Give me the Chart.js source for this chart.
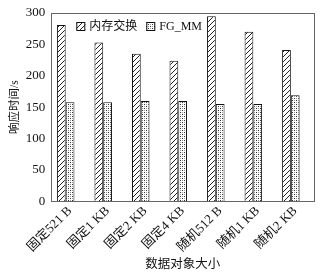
<!DOCTYPE html>
<html lang="zh">
<head>
  <meta charset="UTF-8" />
  <title>响应时间对比</title>
  <script src="https://cdn.jsdelivr.net/npm/chart.js"></script>
  <style>
    body { margin: 0; background: #fff; }
    #wrap { width: 323px; height: 274px; }
  </style>
</head>
<body>
  <div id="wrap"><canvas id="chart"></canvas></div>
  <script>
    const categories = ['固定521 B', '固定1 KB', '固定2 KB', '固定4 KB', '随机512 B', '随机1 KB', '随机2 KB'];
    const swapValues = [281, 253, 235, 224, 295, 270, 241];
    const fgmmValues = [158, 158, 160, 160, 155, 155, 169];
    const yTicks = [0, 50, 100, 150, 200, 250, 300];

    const FONT = "'Liberation Serif', 'Times New Roman', 'Noto Sans CJK SC', serif";

    function hatchPattern() {
      const c = document.createElement('canvas');
      c.width = 5; c.height = 5;
      const g = c.getContext('2d');
      g.fillStyle = '#fff';
      g.fillRect(0, 0, 5, 5);
      g.strokeStyle = '#222';
      g.lineWidth = 1;
      g.beginPath();
      g.moveTo(-1, 6); g.lineTo(6, -1);
      g.moveTo(-1, 1); g.lineTo(1, -1);
      g.moveTo(4, 6); g.lineTo(6, 4);
      g.stroke();
      return g.createPattern(c, 'repeat');
    }

    function dotPattern() {
      const c = document.createElement('canvas');
      c.width = 4; c.height = 4;
      const g = c.getContext('2d');
      g.fillStyle = '#fff';
      g.fillRect(0, 0, 4, 4);
      g.fillStyle = '#333';
      g.fillRect(0, 0, 1, 1);
      g.fillRect(2, 2, 1, 1);
      g.fillStyle = '#999';
      g.fillRect(2, 0, 1, 1);
      g.fillRect(0, 2, 1, 1);
      return g.createPattern(c, 'repeat');
    }

    // box around the plot area
    const frame = {
      id: 'frame',
      afterDatasetsDraw(chart) {
        const a = chart.chartArea, ctx = chart.ctx;
        ctx.save();
        ctx.strokeStyle = '#666';
        ctx.lineWidth = 1;
        ctx.strokeRect(Math.round(a.left) + 0.5, Math.round(a.top) + 0.5,
          Math.round(a.right - a.left), Math.round(a.bottom - a.top));
        ctx.restore();
      }
    };

    // one-row legend drawn inside the plot, top left
    const innerLegend = {
      id: 'innerLegend',
      afterDraw(chart) {
        const a = chart.chartArea, ctx = chart.ctx;
        let x = a.left + 25;
        const y = a.top + 9;
        ctx.save();
        ctx.font = '12px ' + FONT;
        ctx.textBaseline = 'middle';
        chart.data.datasets.forEach(ds => {
          if (!ds.label) return;
          ctx.fillStyle = ds.backgroundColor;
          ctx.fillRect(x, y, 9, 9);
          ctx.strokeStyle = '#111';
          ctx.lineWidth = 1;
          ctx.strokeRect(x + 0.5, y + 0.5, 8, 8);
          ctx.fillStyle = '#111';
          ctx.fillText(ds.label, x + 13, y + 5);
          x += 13 + ctx.measureText(ds.label).width + 9;
        });
        ctx.restore();
      }
    };

    new Chart(document.getElementById('chart'), {
      type: 'bar',
      data: {
        labels: categories,
        datasets: [
          { label: '内存交换', data: swapValues, backgroundColor: hatchPattern(), borderColor: '#111', borderWidth: 1 },
          { label: 'FG_MM', data: fgmmValues, backgroundColor: dotPattern(), borderColor: '#111', borderWidth: 1 },
          // empty slot so the visible pair sits left of the category centre, as in the source
          { label: '', data: categories.map(() => null), backgroundColor: 'rgba(0,0,0,0)' }
        ]
      },
      plugins: [frame, innerLegend],
      options: {
        responsive: true,
        maintainAspectRatio: false,
        animation: false,
        layout: { padding: { top: 13, right: 9, left: 8, bottom: 2 } },
        datasets: { bar: { categoryPercentage: 0.7, barPercentage: 1 } },
        plugins: {
          tooltip: { enabled: false },
          legend: { display: false }
        },
        scales: {
          x: {
            grid: { display: false, drawTicks: false },
            border: { display: false },
            ticks: {
              minRotation: 45,
              maxRotation: 45,
              padding: 2,
              color: '#111',
              font: { family: FONT, size: 13 }
            },
            title: {
              display: true,
              text: '数据对象大小',
              color: '#111',
              padding: { top: 0, bottom: 0 },
              font: { family: FONT, size: 12.5 }
            }
          },
          y: {
            min: 0,
            max: 300,
            afterBuildTicks: axis => { axis.ticks = yTicks.map(v => ({ value: v })); },
            grid: { display: false, drawOnChartArea: false, drawTicks: true, tickLength: 4, color: '#666' },
            border: { display: false },
            ticks: {
              padding: 2,
              color: '#111',
              font: { family: FONT, size: 13 }
            },
            title: {
              display: true,
              text: '响应时间/s',
              color: '#111',
              padding: { top: 0, bottom: 2 },
              font: { family: FONT, size: 11.5 }
            }
          }
        }
      }
    });
  </script>
</body>
</html>
